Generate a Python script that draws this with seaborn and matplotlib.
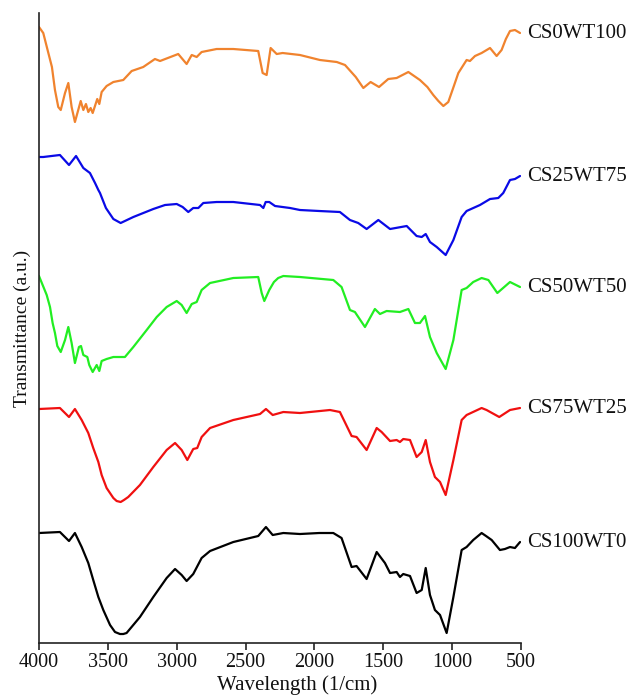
import matplotlib
matplotlib.use("Agg")
import matplotlib.pyplot as plt
import seaborn as sns
import pandas as pd

# FTIR spectra (wavenumber in cm^-1, stacked transmittance in arbitrary units)
wn_cs0wt100 = [4000, 3969, 3932, 3906, 3884, 3860, 3842, 3811, 3787, 3763, 3739, 3697, 3678, 3659,
               3642, 3625, 3610, 3577, 3562, 3545, 3509, 3460, 3388, 3327, 3243, 3158, 3121, 2989,
               2928, 2891, 2855, 2819, 2710, 2589, 2408, 2376, 2347, 2318, 2274, 2231, 2105, 1960,
               1838, 1778, 1700, 1645, 1592, 1531, 1464, 1403, 1318, 1234, 1180, 1137, 1100, 1064,
               1028, 990, 955, 895, 871, 834, 786, 725, 677, 641, 610, 580, 544, 507]
tr_cs0wt100 = [616, 610, 590, 576, 553, 536, 533, 550, 560, 536, 521, 542, 533, 539,
               531, 535, 530, 544, 539, 551, 557, 561, 563, 572, 576, 584, 582, 589,
               579, 588, 586, 591, 594, 594, 592, 570, 568, 595, 589, 590, 588, 583,
               581, 578, 566, 555, 561, 556, 564, 565, 571, 563, 556, 548, 542, 537,
               541, 556, 570, 583, 582, 587, 590, 595, 587, 593, 604, 612, 613, 610]

wn_cs25wt75 = [4000, 3969, 3848, 3782, 3731, 3678, 3630, 3593, 3569, 3557, 3514, 3460, 3407, 3315,
               3170, 3085, 3000, 2957, 2916, 2880, 2843, 2807, 2710, 2589, 2395, 2371, 2354, 2328,
               2286, 2177, 2105, 1965, 1815, 1742, 1682, 1621, 1536, 1451, 1330, 1258, 1221, 1192,
               1161, 1112, 1047, 991, 931, 895, 798, 725, 665, 629, 580, 544, 507]
tr_cs25wt75 = [486, 486, 488, 478, 487, 475, 470, 460, 453, 450, 435, 424, 420, 426,
               434, 438, 439, 436, 431, 435, 435, 440, 441, 441, 438, 435, 441, 441,
               437, 435, 433, 432, 431, 423, 420, 414, 423, 414, 417, 407, 406, 409,
               401, 396, 388, 403, 426, 432, 438, 444, 445, 450, 463, 464, 467]

wn_cs50wt50 = [4000, 3944, 3920, 3901, 3884, 3867, 3842, 3811, 3787, 3763, 3739, 3710, 3695, 3678,
               3649, 3635, 3610, 3581, 3562, 3545, 3509, 3460, 3376, 3315, 3218, 3145, 3073, 3000,
               2964, 2928, 2891, 2855, 2819, 2758, 2589, 2408, 2383, 2364, 2328, 2294, 2263, 2226,
               2105, 1863, 1803, 1742, 1706, 1633, 1561, 1524, 1476, 1379, 1318, 1270, 1234, 1197,
               1161, 1112, 1047, 991, 931, 895, 847, 786, 737, 672, 580, 507]
tr_cs50wt50 = [367, 348, 336, 320, 310, 297, 291, 303, 316, 300, 280, 296, 297, 288,
               286, 278, 271, 278, 272, 282, 284, 286, 286, 296, 313, 326, 336, 342,
               338, 330, 339, 341, 353, 360, 365, 366, 350, 342, 353, 361, 365, 367,
               366, 363, 356, 333, 331, 316, 334, 329, 332, 331, 334, 320, 320, 327,
               306, 290, 274, 303, 353, 355, 361, 365, 363, 350, 361, 356]

wn_cs75wt25 = [4000, 3848, 3782, 3739, 3690, 3642, 3606, 3569, 3545, 3509, 3460, 3436, 3407, 3383,
               3352, 3267, 3170, 3073, 3012, 2964, 2923, 2880, 2851, 2819, 2758, 2589, 2395, 2352,
               2303, 2226, 2105, 1887, 1815, 1730, 1694, 1621, 1548, 1512, 1451, 1403, 1379, 1355,
               1306, 1258, 1221, 1192, 1161, 1125, 1088, 1047, 991, 931, 895, 786, 750, 658, 580, 507]
tr_cs75wt25 = [234, 235, 226, 234, 223, 210, 195, 181, 168, 155, 145, 142, 141, 143,
               146, 158, 176, 193, 200, 193, 183, 194, 195, 206, 215, 223, 229, 234,
               228, 231, 230, 233, 231, 207, 206, 193, 215, 211, 202, 203, 201, 204,
               203, 186, 191, 203, 181, 166, 161, 148, 183, 223, 228, 235, 233, 226, 233, 235]

wn_cs100wt0 = [4000, 3848, 3782, 3739, 3690, 3642, 3606, 3569, 3533, 3484, 3448, 3412, 3388, 3364,
               3267, 3170, 3073, 3012, 2964, 2928, 2880, 2819, 2758, 2589, 2408, 2352, 2303, 2226,
               2105, 1965, 1863, 1803, 1730, 1694, 1621, 1548, 1488, 1451, 1403, 1379, 1355, 1306,
               1258, 1221, 1192, 1161, 1125, 1088, 1040, 991, 931, 895, 847, 786, 754, 713, 653,
               617, 580, 544, 507]
tr_cs100wt0 = [110, 111, 102, 110, 96, 80, 63, 46, 33, 18, 11, 9, 9, 10,
               26, 46, 65, 74, 68, 62, 69, 85, 92, 101, 107, 116, 108, 110,
               109, 110, 110, 105, 76, 77, 64, 91, 80, 70, 71, 66, 69, 67,
               50, 53, 75, 48, 33, 28, 10, 46, 93, 96, 103, 110, 107, 103, 93,
               94, 96, 95, 101]

samples = ["CS0WT100", "CS25WT75", "CS50WT50", "CS75WT25", "CS100WT0"]
colors = ["#F0832E", "#0A0AE6", "#22EE22", "#F01010", "#000000"]
series_wn = [wn_cs0wt100, wn_cs25wt75, wn_cs50wt50, wn_cs75wt25, wn_cs100wt0]
series_tr = [tr_cs0wt100, tr_cs25wt75, tr_cs50wt50, tr_cs75wt25, tr_cs100wt0]
x_ticks = [4000, 3500, 3000, 2500, 2000, 1500, 1000, 500]

frames = []
for name, wn, tr in zip(samples, series_wn, series_tr):
    frames.append(pd.DataFrame({"wavenumber": wn, "transmittance": tr, "sample": name}))
df = pd.concat(frames, ignore_index=True)

sns.set_theme(style="white")
plt.rcParams["font.family"] = ["Liberation Serif", "DejaVu Serif"]

fig = plt.figure(figsize=(6.36, 6.99), dpi=100)
ax = fig.add_axes([0.0613, 0.0801, 0.7579, 0.9013])

sns.lineplot(data=df, x="wavenumber", y="transmittance", hue="sample",
             palette=dict(zip(samples, colors)), hue_order=samples,
             sort=False, estimator=None, linewidth=1.6, legend=False, ax=ax,
             solid_joinstyle="round", solid_capstyle="round")

ax.set_xlim(4000, 500)
ax.set_ylim(0, 630)
ax.set_xticks(x_ticks)
ax.set_xticklabels([str(t) for t in x_ticks], fontsize=14.5, color="#111111")
ax.set_yticks([])
ax.tick_params(axis="x", direction="out", length=5, width=1.2, color="#222222", pad=2, bottom=True)

for side in ("top", "right"):
    ax.spines[side].set_visible(False)
for side in ("left", "bottom"):
    ax.spines[side].set_color("#222222")
    ax.spines[side].set_linewidth(1.2)

ax.set_xlabel("Wavelength (1/cm)", fontsize=15, color="#111111")
ax.xaxis.set_label_coords(0.535, -0.051)
ax.set_ylabel("Transmittance (a.u.)", fontsize=14, color="#111111", labelpad=6)

# sample names next to the right end of each spectrum
for name, tr, col in zip(samples, series_tr, colors):
    ax.annotate(name, xy=(507, tr[-1]), xytext=(5, 0), textcoords="offset points",
                fontsize=15, color="#111111", va="center", ha="left",
                annotation_clip=False)

fig.savefig("out.png", dpi=100, facecolor="white")
